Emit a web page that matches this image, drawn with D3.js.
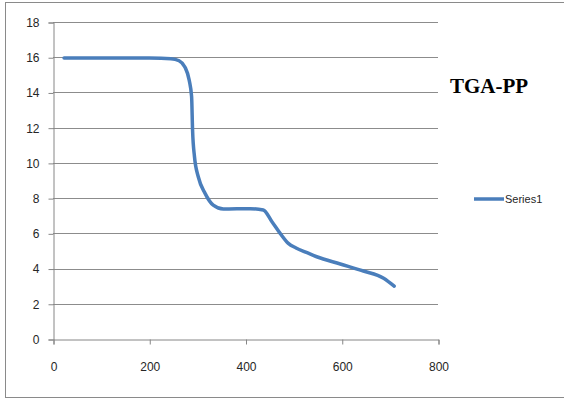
<!DOCTYPE html>
<html>
<head>
<meta charset="utf-8">
<script src="https://cdn.jsdelivr.net/npm/d3@7"></script>
<style>
  body { margin: 0; background: #fff; }
  svg { display: block; }
</style>
</head>
<body>
<script>
const width = 564;
const height = 400;

// values
const temperature = [23, 100, 200, 245, 262, 274, 283, 288, 290, 294, 302, 316, 333, 354, 410, 437, 455, 472, 489, 505, 528, 548, 597, 645, 687, 709];
const mass = [15.95, 15.96, 15.95, 15.92, 15.8, 15.45, 14.7, 13.76, 11.87, 10.35, 9.2, 8.27, 7.6, 7.38, 7.4, 7.33, 6.66, 6.0, 5.43, 5.17, 4.9, 4.67, 4.26, 3.86, 3.45, 3.0];
const xTicks = [0, 200, 400, 600, 800];
const yTicks = [0, 2, 4, 6, 8, 10, 12, 14, 16, 18];
const title = "TGA-PP";
const seriesName = "Series1";

const svg = d3.select('body').append('svg')
    .attr('width', width)
    .attr('height', height);

// outer frame
svg.append("rect")
    .attr("x", 5.5)
    .attr("y", 2.5)
    .attr("width", 580)
    .attr("height", 395)
    .attr("fill", "none")
    .attr("stroke", "#8a8a8a")
    .attr("stroke-width", 1);

const x = d3.scaleLinear().domain([0, 800]).range([53, 438]);
const y = d3.scaleLinear().domain([0, 18]).range([339, 22]);

// gridlines
svg.append("g")
    .selectAll("line")
    .data(yTicks.filter(d => d > 0))
    .join("line")
    .attr("x1", x(0))
    .attr("x2", x(800))
    .attr("y1", d => Math.round(y(d)) + 0.5)
    .attr("y2", d => Math.round(y(d)) + 0.5)
    .attr("stroke", "#8c8c8c")
    .attr("stroke-width", 1);

const yAxis = svg.append("g")
    .attr("transform", `translate(${x(0) + 0.5},0.5)`)
    .call(d3.axisLeft(y).tickValues(yTicks).tickSize(5).tickPadding(9));

const xAxis = svg.append("g")
    .attr("transform", `translate(0.5,${Math.round(y(0)) + 0.5})`)
    .call(d3.axisBottom(x).tickValues(xTicks).tickSize(5).tickPadding(18));

[yAxis, xAxis].forEach(g => {
    g.select(".domain").attr("stroke", "#868686");
    g.selectAll(".tick line").attr("stroke", "#868686");
    g.selectAll("text")
        .attr("font-family", "'Liberation Sans', Arial, sans-serif")
        .attr("font-size", "12px")
        .attr("fill", "#262626");
});

const points = temperature.map((t, i) => [t, mass[i]]);

const line = d3.line()
    .x(d => x(d[0]))
    .y(d => y(d[1]))
    .curve(d3.curveMonotoneX);

svg.append("path")
    .datum(points)
    .attr("d", line)
    .attr("fill", "none")
    .attr("stroke", "#4a7ebb")
    .attr("stroke-width", 3.5)
    .attr("stroke-linecap", "round")
    .attr("stroke-linejoin", "round");

svg.append("text")
    .attr("x", 450)
    .attr("y", 93)
    .attr("font-family", "'Liberation Serif', 'Times New Roman', serif")
    .attr("font-weight", "bold")
    .attr("font-size", "21px")
    .attr("fill", "#000")
    .text(title);

// legend
svg.append("line")
    .attr("x1", 474)
    .attr("x2", 504)
    .attr("y1", 199)
    .attr("y2", 199)
    .attr("stroke", "#4a7ebb")
    .attr("stroke-width", 3.5);

svg.append("text")
    .attr("x", 505)
    .attr("y", 203)
    .attr("font-family", "'Liberation Sans', Arial, sans-serif")
    .attr("font-size", "11px")
    .attr("fill", "#262626")
    .text(seriesName);
</script>
</body>
</html>
